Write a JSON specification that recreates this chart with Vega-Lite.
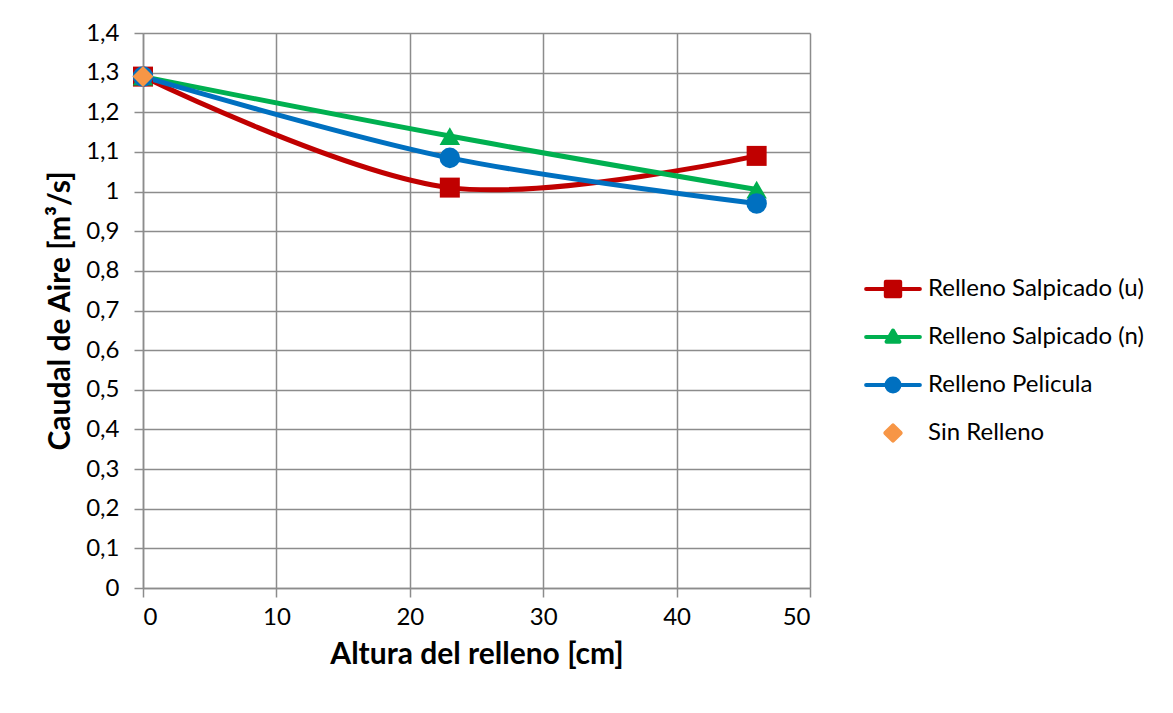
{
  "$schema": "https://vega.github.io/schema/vega-lite/v6.json",
  "width": 667,
  "height": 555,
  "autosize": "none",
  "padding": {"left": 143, "top": 33, "right": 363, "bottom": 125},
  "background": "white",
  "config": {
    "font": "Lato",
    "view": {"stroke": null},
    "axis": {
      "gridColor": "#8c8c8c",
      "gridWidth": 1.5,
      "gridOpacity": 1,
      "domainColor": "#8c8c8c",
      "domainWidth": 1.5,
      "tickColor": "#8c8c8c",
      "tickWidth": 1.5,
      "tickSize": 9,
      "labelFont": "Lato",
      "labelFontSize": 24,
      "labelColor": "#000000",
      "titleFont": "Lato",
      "titleFontSize": 30,
      "titleFontWeight": "bold",
      "titleColor": "#000000"
    }
  },
  "data": {
    "values": [
      {"series": "Relleno Salpicado (u)", "x": 0, "y": 1.29},
      {"series": "Relleno Salpicado (u)", "x": 23, "y": 1.01},
      {"series": "Relleno Salpicado (u)", "x": 46, "y": 1.09},
      {"series": "Relleno Salpicado (n)", "x": 0, "y": 1.29},
      {"series": "Relleno Salpicado (n)", "x": 23, "y": 1.14},
      {"series": "Relleno Salpicado (n)", "x": 46, "y": 1.005},
      {"series": "Relleno Pelicula", "x": 0, "y": 1.29},
      {"series": "Relleno Pelicula", "x": 23, "y": 1.085},
      {"series": "Relleno Pelicula", "x": 46, "y": 0.97},
      {"series": "Sin Relleno", "x": 0, "y": 1.29}
    ]
  },
  "encoding": {
    "x": {
      "field": "x",
      "type": "quantitative",
      "scale": {"domain": [0, 50], "nice": false},
      "axis": {
        "values": [0, 10, 20, 30, 40, 50],
        "title": "Altura del relleno [cm]",
        "labelFontSize": 24,
        "labelFont": "Lato",
        "labelPadding": 8,
        "titlePadding": 10
      }
    },
    "y": {
      "field": "y",
      "type": "quantitative",
      "scale": {"domain": [0, 1.4], "nice": false},
      "axis": {
        "values": [0, 0.1, 0.2, 0.3, 0.4, 0.5, 0.6, 0.7, 0.8, 0.9, 1, 1.1, 1.2, 1.3, 1.4],
        "labelExpr": "replace(format(datum.value, '.1~f'), '.', ',')",
        "title": "Caudal de Aire [m³/s]",
        "labelFontSize": 24,
        "labelFont": "Lato",
        "labelPadding": 15,
        "titlePadding": 10
      }
    },
    "color": {
      "field": "series",
      "type": "nominal",
      "scale": {
        "domain": ["Relleno Salpicado (u)", "Relleno Salpicado (n)", "Relleno Pelicula", "Sin Relleno"],
        "range": ["#C00000", "#00B050", "#0070C0", "#F79646"]
      },
      "legend": {
        "title": null,
        "orient": "none",
        "legendX": 724,
        "legendY": 230,
        "symbolSize": 2304,
        "labelFontSize": 24,
        "labelFont": "Lato",
        "labelColor": "#000000",
        "labelOffset": 9,
        "rowPadding": 10,
        "labelLimit": 400,
        "encode": {
          "symbols": {
            "update": {
              "shape": {"signal": "datum.value === 'Relleno Salpicado (u)' ? 'M-1.12,0L1.12,0M-0.3,-0.3L0.3,-0.3L0.3,0.3L-0.3,0.3Z' : datum.value === 'Relleno Salpicado (n)' ? 'M-1.12,0L1.12,0M0,-0.27L0.27,0.2L-0.27,0.2Z' : datum.value === 'Relleno Pelicula' ? 'M-1.12,0L1.12,0M0.27,0A0.27,0.27,0,1,1,-0.27,0A0.27,0.27,0,1,1,0.27,0Z' : 'M0,-0.32L0.32,0L0,0.32L-0.32,0Z'"},
              "fill": {"signal": "scale('color', datum.value)"},
              "stroke": {"signal": "datum.value === 'Sin Relleno' ? 'transparent' : scale('color', datum.value)"},
              "strokeWidth": {"value": 4},
              "strokeCap": {"value": "round"},
              "strokeJoin": {"value": "round"},
              "opacity": {"value": 1},
              "fillOpacity": {"value": 1}
            }
          }
        }
      }
    }
  },
  "layer": [
    {
      "transform": [{"filter": "datum.series !== 'Sin Relleno'"}],
      "mark": {"type": "line", "interpolate": "catmull-rom", "strokeWidth": 5}
    },
    {
      "transform": [{"filter": "datum.series === 'Relleno Salpicado (u)'"}],
      "mark": {"type": "point", "shape": "square", "filled": true, "size": 400, "opacity": 1}
    },
    {
      "transform": [{"filter": "datum.series === 'Relleno Salpicado (n)'"}],
      "mark": {"type": "point", "shape": "triangle-up", "filled": true, "size": 420, "opacity": 1}
    },
    {
      "transform": [{"filter": "datum.series === 'Relleno Pelicula'"}],
      "mark": {"type": "point", "shape": "circle", "filled": true, "size": 420, "opacity": 1}
    },
    {
      "transform": [{"filter": "datum.series === 'Sin Relleno'"}],
      "mark": {"type": "point", "shape": "diamond", "filled": true, "size": 440, "opacity": 1}
    }
  ]
}
